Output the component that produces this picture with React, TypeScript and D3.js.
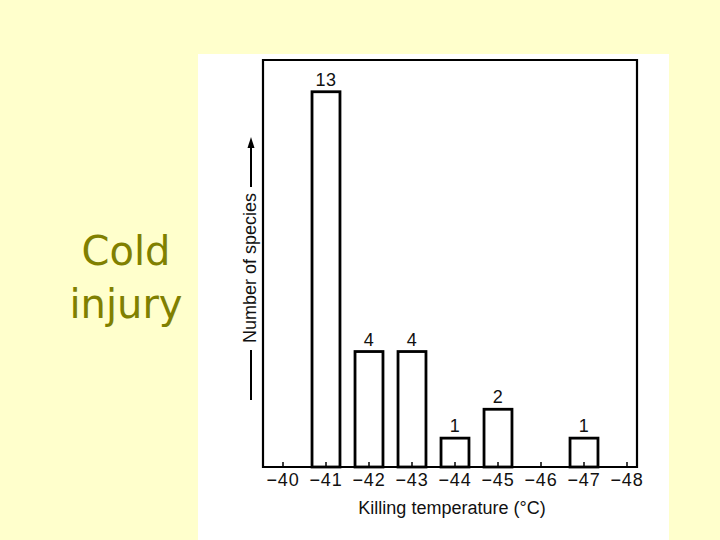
import * as d3 from "d3";

// killing temperature classes (°C) and number of species in each
const temps = [-40, -41, -42, -43, -44, -45, -46, -47, -48];
const counts = [0, 13, 4, 4, 1, 2, 0, 1, 0];
const tickLabels = temps.map((t) => `\u2212${Math.abs(t)}`);

const W = 720;
const H = 540;
const frame = { left: 263, right: 637, top: 60, bottom: 467 };

export default function App() {
  const x = d3
    .scalePoint<number>()
    .domain(temps)
    .range([283, 627]);
  const step = x.step();
  const barW = step * 0.65;

  const y = d3.scaleLinear().domain([0, 14.1]).range([frame.bottom, frame.top]);

  const bars = temps
    .map((t, i) => ({ t, n: counts[i] }))
    .filter((d) => d.n > 0);

  const font = "'Liberation Sans', Arial, Helvetica, sans-serif";

  return (
    <div style={{ position: "fixed", left: 0, top: 0, width: W, height: H }}>
      <svg width={W} height={H} style={{ display: "block" }}>
        <rect x={0} y={0} width={W} height={H} fill="#ffffcc" />
        <rect x={198} y={54} width={471} height={H - 54} fill="#ffffff" />

        {/* slide title */}
        <g fill="#808000" fontFamily="'Comic Sans MS', 'DejaVu Sans', sans-serif" fontSize={40} textAnchor="middle">
          <text x={126} y={265}>Cold</text>
          <text x={126} y={318}>injury</text>
        </g>

        {/* bars */}
        {bars.map((d) => (
          <g key={d.t}>
            <rect
              x={(x(d.t) as number) - barW / 2}
              y={y(d.n)}
              width={barW}
              height={y(0) - y(d.n)}
              fill="#ffffff"
              stroke="#000"
              strokeWidth={2.8}
            />
            <text
              x={x(d.t) as number}
              y={y(d.n) - 6}
              textAnchor="middle"
              fontFamily={font}
              fontSize={18}
              letterSpacing={0.5}
              fill="#111"
            >
              {d.n}
            </text>
          </g>
        ))}

        {/* frame */}
        <path
          d={`M${frame.left},${frame.bottom}V${frame.top}H${frame.right}V${frame.bottom}Z`}
          fill="none"
          stroke="#000"
          strokeWidth={2.2}
        />

        {/* x ticks + labels */}
        {temps.map((t, i) => (
          <g key={t} transform={`translate(${x(t)},0)`}>
            <line y1={frame.bottom} y2={frame.bottom - 5} stroke="#000" strokeWidth={1.5} />
            <text
              y={486}
              textAnchor="middle"
              fontFamily={font}
              fontSize={18}
              letterSpacing={0.8}
              fill="#111"
            >
              {tickLabels[i]}
            </text>
          </g>
        ))}

        <text
          x={452}
          y={514}
          textAnchor="middle"
          fontFamily={font}
          fontSize={18}
          fill="#111"
        >
          Killing temperature (°C)
        </text>

        {/* y label with arrow */}
        <text
          transform="translate(256,268) rotate(-90)"
          textAnchor="middle"
          fontFamily={font}
          fontSize={18}
          fill="#111"
        >
          Number of species
        </text>
        <line x1={251} x2={251} y1={350} y2={400} stroke="#000" strokeWidth={2} />
        <line x1={251} x2={251} y1={146} y2={187} stroke="#000" strokeWidth={2} />
        <path d="M251,137L247.5,148L254.5,148Z" fill="#000" />
      </svg>
    </div>
  );
}
